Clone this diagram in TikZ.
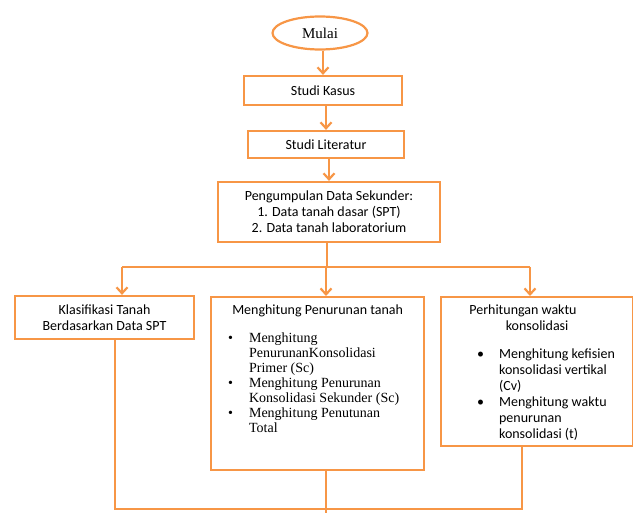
\documentclass[tikz,border=0pt]{standalone}
\usepackage{fontspec}
\setmainfont{Liberation Serif}
\newfontfamily\calibri{Carlito}
\usetikzlibrary{shapes.geometric,arrows.meta}
\definecolor{oranye}{RGB}{247,150,70}
\newcommand{\butir}[3]{\par\noindent\hangindent=#2\hangafter=1\hspace*{#1}\makebox[\dimexpr#2-#1\relax][l]{\textbullet}#3}

\begin{document}
\begin{tikzpicture}[x=1pt,y=-1pt,
	kotak/.style={draw=oranye,line width=2.2pt,rectangle,inner sep=0pt,align=center,font={\calibri\fontsize{14}{16}\selectfont}},
	panah/.style={color=oranye,line width=2.2pt,-{Straight Barb[length=6pt,width=11pt]}},
	garis/.style={draw=oranye,line width=2.2pt}]
	\useasboundingbox (0,0) rectangle (633,513);
	\node[draw=oranye,line width=2.2pt,ellipse,minimum width=95pt,minimum height=33pt,inner sep=0pt,font={\fontsize{15}{18}\selectfont}] (mulai) at (320,33) {Mulai};
	\node[kotak,minimum width=158pt,minimum height=29pt] (kasus) at (323,90.5) {Studi Kasus};
	\node[kotak,minimum width=156pt,minimum height=27pt] (literatur) at (326,144.5) {Studi Literatur};
	\node[kotak,minimum width=222pt,minimum height=60pt] (kumpul) at (329,212) {Pengumpulan Data Sekunder:\\1. Data tanah dasar (SPT)\\2. Data tanah laboratorium};
	\node[kotak,minimum width=179pt,minimum height=43pt] (klas) at (104.5,317.5) {Klasifikasi Tanah\\Berdasarkan Data SPT};
	\node[kotak,anchor=north west] (hitung) at (210,296) {\parbox[c][173pt][t]{213pt}{\vspace*{8pt}{\centering Menghitung Penurunan tanah\par}\vspace{13pt}
		\raggedright\rmfamily\fontsize{14}{15}\selectfont
		\butir{17pt}{38pt}{Menghitung\newline PenurunanKonsolidasi\newline Primer (Sc)}
		\butir{17pt}{38pt}{Menghitung Penurunan\newline Konsolidasi Sekunder (Sc)}
		\butir{17pt}{38pt}{Menghitung Penutunan\newline Total}\par}};
	\node[kotak,anchor=north west] (waktu) at (440,296) {\parbox[c][149pt][t]{192pt}{\vspace*{8pt}{\centering Perhitungan waktu\newline konsolidasi\par}\vspace{12pt}
		\raggedright
		\butir{36pt}{58pt}{Menghitung kefisien\newline konsolidasi vertikal\newline (Cv)}
		\butir{36pt}{58pt}{Menghitung waktu\newline penurunan\newline konsolidasi (t)}\par}};
	\coordinate (cabang) at (327,267);
	\coordinate (ki) at (122,267);
	\coordinate (tengah) at (326,267);
	\coordinate (ka) at (530,267);
	\coordinate (kb) at (115,509);
	\coordinate (wb) at (522,509);
	\coordinate (akhir) at (326,513);
	\path[panah]
	(kasus.north |- mulai.south) edge (kasus.north)
	(literatur.north |- kasus.south) edge (literatur.north)
	(kumpul.north |- literatur.south) edge (kumpul.north)
	(ki) edge (ki |- klas.north)
	(tengah) edge (tengah |- hitung.north)
	(ka) edge (ka |- waktu.north);
	\draw[garis] (kumpul.south -| cabang) -- (cabang);
	\draw[garis] (ki) -- (ka);
	\draw[garis] (kb |- klas.south) -- (kb) -- (wb) -- (wb |- waktu.south);
	\draw[garis] (akhir |- hitung.south) -- (akhir);
\end{tikzpicture}
\end{document}
